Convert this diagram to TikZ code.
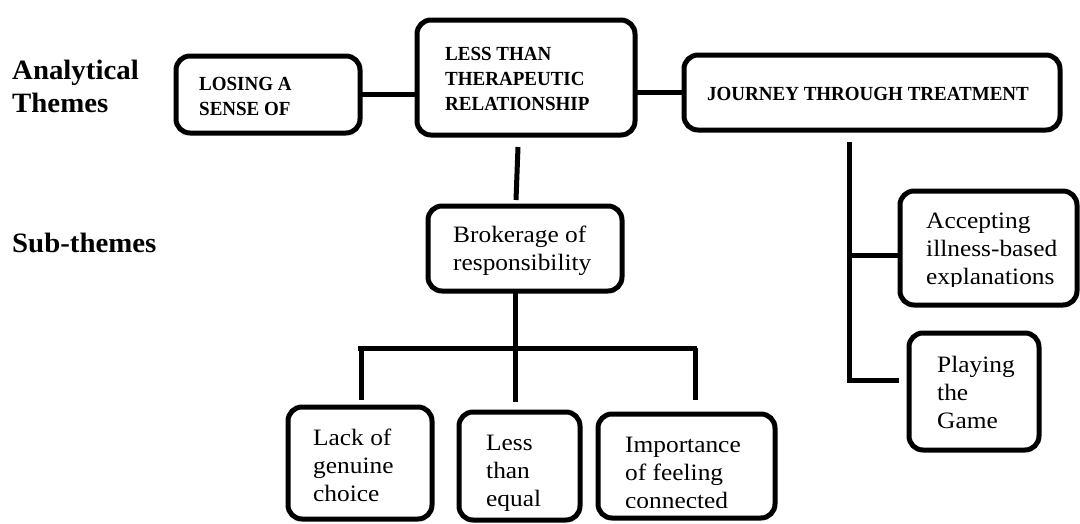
\documentclass[tikz,border=0pt]{standalone}
\usepackage{fontspec}
\setmainfont{Liberation Serif}[FakeStretch=1.08]
\newfontfamily\titlefont{Liberation Serif}[FakeStretch=0.95]
\newfontfamily\headfont{Liberation Serif}[FakeStretch=1.03]
\begin{document}
\begin{tikzpicture}[x=1pt,y=-1pt,
  box/.style={draw, line width=5pt, rounded corners=14pt, rectangle, inner sep=0pt, outer sep=0pt},
  conn/.style={line width=5pt},
  heading/.style={anchor=base west, inner sep=0pt, align=left, font=\headfont\fontsize{28}{33}\selectfont\bfseries},
  title/.style={anchor=base west, inner sep=0pt, align=left, font=\titlefont\fontsize{20}{25}\selectfont\bfseries},
  sub/.style={anchor=base west, inner sep=0pt, align=left, font=\fontsize{23.5}{28}\selectfont}]
\useasboundingbox (0,0) rectangle (1080,523);
% boxes
\node[box, minimum width=184pt, minimum height=77pt]  (losing)  at (268,94.5) {};
\node[box, minimum width=218pt, minimum height=115pt] (less)    at (526,77.5) {};
\node[box, minimum width=376pt, minimum height=75pt]  (journey) at (872,92.5) {};
\node[box, minimum width=194pt, minimum height=85pt]  (broker)  at (525,248.5) {};
\node[box, minimum width=144pt, minimum height=112pt] (lack)    at (360,463) {};
\node[box, minimum width=121pt, minimum height=108pt] (lesseq)  at (519.5,466) {};
\node[box, minimum width=177pt, minimum height=104pt] (imp)     at (686.5,466) {};
\node[box, minimum width=177pt, minimum height=114pt] (acc)     at (988.5,248) {};
\node[box, minimum width=130pt, minimum height=117pt] (play)    at (974,391.5) {};
% connectors
\draw[conn] (losing.east) -- (losing.east -| less.west);
\draw[conn] (journey.west -| less.east) -- (journey.west);
\draw[conn] ([shift={(-8,12)}]less.south) -- ([shift={(-9,-6)}]broker.north);
\coordinate (barL) at (358,348);
\coordinate (barR) at (697,348);
\draw[conn] ([shift={(-10,0)}]broker.south) -- ([shift={(-10,0)}]broker.south |- barL);
\draw[conn] (barL) -- (barR);
\draw[conn] (361,348) -- ([shift={(1,-7)}]lack.north);
\draw[conn] (515,348) -- ([shift={(-4.5,-10)}]lesseq.north);
\draw[conn] (695,348) -- ([shift={(8.5,-14)}]imp.north);
\coordinate (jtop) at (849,142);
\coordinate (jmid) at (849,255);
\coordinate (jbot) at (849,380);
\draw[conn] (jtop) -- ([shift={(0,2.5)}]jbot);
\draw[conn] (jmid) -- (jmid -| acc.west);
\draw[conn] ([shift={(1,0)}]jbot) -- ([shift={(-10,0)}]jbot -| play.west);
% text
\node[heading] (hA) at (12,112) {Analytical\\Themes};
\node[heading] (hS) at (12,252) {Sub-themes};
\node[title] (tL) at (199,115) {LOSING A\\SENSE OF};
\node[title] (tT) at (445,110) {LESS THAN\\THERAPEUTIC\\RELATIONSHIP};
\node[title] (tJ) at (707,100) {JOURNEY THROUGH TREATMENT};
\begin{scope}
\clip (430,208) rectangle (620,275);
\node[sub] (tB) at (453,270) {Brokerage of\\responsibility};
\end{scope}
\node[sub] (tK) at (313,501) {Lack of\\genuine\\choice};
\begin{scope}
\clip (461,414) rectangle (578,511);
\node[sub] (tE) at (486,506) {Less\\than\\equal};
\end{scope}
\begin{scope}
\clip (600,416) rectangle (773,507);
\node[sub] (tI) at (625,508) {Importance\\of feeling\\connected};
\end{scope}
\begin{scope}
\clip (902,193) rectangle (1075,286);
\node[sub] (tA) at (926,284) {Accepting\\illness-based\\explanations};
\end{scope}
\node[sub] (tP) at (937,428) {Playing\\the\\Game};
\end{tikzpicture}
\end{document}
